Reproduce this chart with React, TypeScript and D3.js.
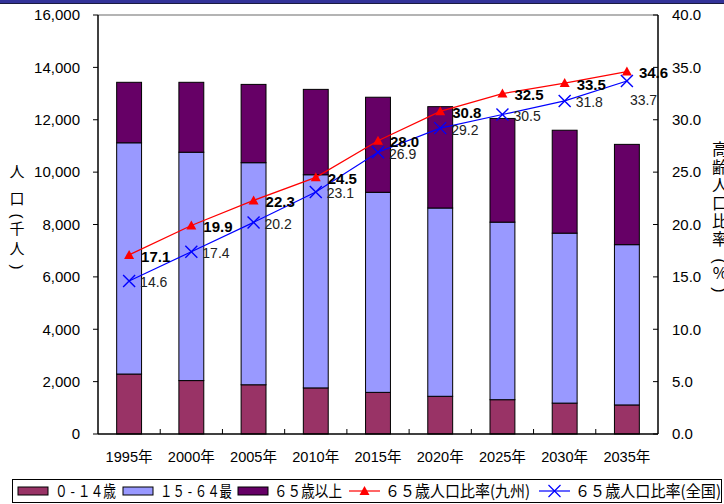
import React from 'react';
import * as d3 from 'd3';

const years = ['1995年', '2000年', '2005年', '2010年', '2015年', '2020年', '2025年', '2030年', '2035年'];
const age0to14 = [2290, 2040, 1880, 1760, 1590, 1440, 1310, 1180, 1110];
const age15to64 = [8830, 8720, 8480, 8140, 7640, 7190, 6780, 6490, 6120];
const age65plus = [2310, 2670, 2990, 3260, 3630, 3870, 3960, 3930, 3830];
const ratioKyushu = [17.1, 19.9, 22.3, 24.5, 28.0, 30.8, 32.5, 33.5, 34.6];
const ratioNational = [14.6, 17.4, 20.2, 23.1, 26.9, 29.2, 30.5, 31.8, 33.7];
const leftTicks = [0, 2000, 4000, 6000, 8000, 10000, 12000, 14000, 16000];
const rightTicks = [0, 5, 10, 15, 20, 25, 30, 35, 40];

const colors = {
  young: '#993366',
  working: '#9999ff',
  old: '#660066',
  kyushu: '#ff0000',
  national: '#0000ff'
};

const numFont = '"Liberation Sans", Arial, "Noto Sans CJK JP", sans-serif';
const jpFont = '"Noto Sans CJK JP", "Liberation Sans", sans-serif';

const margin = { top: 15, right: 66, bottom: 70, left: 98 };
const W = 724;
const H = 504;

const App: React.FC = () => {
  const x = d3.scaleBand().domain(years).range([margin.left, W - margin.right]).paddingInner(0.6).paddingOuter(0.3);
  const y = d3.scaleLinear().domain([0, 16000]).range([H - margin.bottom, margin.top]);
  const yr = d3.scaleLinear().domain([0, 40]).range([H - margin.bottom, margin.top]);
  const cx = (d: string) => x(d)! + x.bandwidth() / 2;
  const step = x.step();
  const x0 = margin.left, x1 = W - margin.right, yb = H - margin.bottom, yt = margin.top;

  const stacks = years.map((_, i) => {
    const a = age0to14[i], b = a + age15to64[i], c = b + age65plus[i];
    return [
      { y0: 0, y1: a, fill: colors.young },
      { y0: a, y1: b, fill: colors.working },
      { y0: b, y1: c, fill: colors.old }
    ];
  });

  const line = d3.line<number>().x((_, i) => cx(years[i])).y(d => yr(d));

  const triangle = (px: number, py: number, s = 5) =>
    `M${px},${py - s} L${px + s},${py + s * 0.8} L${px - s},${py + s * 0.8} Z`;
  const cross = (px: number, py: number, s = 6) =>
    `M${px - s},${py - s} L${px + s},${py + s} M${px - s},${py + s} L${px + s},${py - s}`;

  // vertical titles, one glyph per row; parens are rotated
  const leftTitle = [
    { ch: '人', y: 172 }, { ch: '口', y: 199 }, { ch: '(', y: 216, rot: true },
    { ch: '千', y: 229 }, { ch: '人', y: 249 }, { ch: ')', y: 267, rot: true }
  ];
  const rightTitle = [
    { ch: '高', y: 149 }, { ch: '齢', y: 167 }, { ch: '人', y: 185 }, { ch: '口', y: 203 },
    { ch: '比', y: 221 }, { ch: '率', y: 239 }, { ch: '(', y: 261, rot: true }, { ch: '%', y: 273 },
    { ch: ')', y: 290, rot: true }
  ];

  const legendY = 491;
  const legendItems = [
    { type: 'rect', fill: colors.young, sx: 18, tx: 55, label: '０ - １４歳', len: 61 },
    { type: 'rect', fill: colors.working, sx: 123, tx: 160, label: '１５ - ６４最', len: 72 },
    { type: 'rect', fill: colors.old, sx: 238, tx: 274, label: '６５歳以上', len: 68 },
    { type: 'tri', fill: colors.kyushu, sx: 349, tx: 385, label: '６５歳人口比率(九州)', len: 145 },
    { type: 'x', fill: colors.national, sx: 539, tx: 575, label: '６５歳人口比率(全国)', len: 146 }
  ];

  const titleChar = (c: { ch: string; y: number; rot?: boolean }, px: number, size: number, key: string) =>
    c.rot ? (
      <text key={key} transform={`translate(${px},${c.y}) rotate(90)`} dy="0.35em" textAnchor="middle"
        fontFamily={numFont} fontSize={size} fill="#000">{c.ch}</text>
    ) : (
      <text key={key} x={px} y={c.y} dy="0.35em" textAnchor="middle" fontFamily={jpFont} fontSize={size} fill="#000">{c.ch}</text>
    );

  return (
    <svg width={W} height={H} style={{ position: 'absolute', left: 0, top: 0, background: '#fff' }}>
      <rect x={0} y={0} width={W} height={3} fill="#333399" />
      <line x1={0} x2={W} y1={3.5} y2={3.5} stroke="#1a1a40" strokeWidth={1} />

      {/* bars */}
      {stacks.map((segs, i) =>
        segs.map((s, j) => (
          <rect key={`${i}-${j}`} x={x(years[i])} y={y(s.y1)} width={x.bandwidth()} height={y(s.y0) - y(s.y1)}
            fill={s.fill} stroke="#000" strokeWidth={1} />
        ))
      )}

      {/* frame and axes */}
      <line x1={x0} x2={x1} y1={yt} y2={yt} stroke="#b4b4b4" strokeWidth={2} />
      <line x1={x0} x2={x0} y1={yt} y2={yb} stroke="#000" strokeWidth={1.5} />
      <line x1={x1} x2={x1} y1={yt} y2={yb} stroke="#000" strokeWidth={1.5} />
      <line x1={x0} x2={x1} y1={yb} y2={yb} stroke="#000" strokeWidth={1.5} />

      {leftTicks.map(t => (
        <g key={`l${t}`}>
          <line x1={x0 - 5} x2={x0} y1={y(t)} y2={y(t)} stroke="#000" />
          <text x={80} y={y(t)} dy="0.35em" textAnchor="end" fontFamily={numFont} fontSize={15} fill="#000">
            {d3.format(',')(t)}
          </text>
        </g>
      ))}
      {rightTicks.map(t => (
        <g key={`r${t}`}>
          <line x1={x1 - 5} x2={x1} y1={yr(t)} y2={yr(t)} stroke="#000" />
          <text x={672} y={yr(t)} dy="0.35em" fontFamily={numFont} fontSize={15} fill="#000">
            {d3.format('.1f')(t)}
          </text>
        </g>
      ))}
      {years.slice(1).map(d => (
        <line key={`t${d}`} x1={cx(d) - step / 2} x2={cx(d) - step / 2} y1={yb - 5} y2={yb} stroke="#000" />
      ))}
      {years.map(d => (
        <text key={`c${d}`} x={cx(d)} y={457} dy="0.35em" textAnchor="middle" fontFamily={numFont}
          fontSize={15} textLength={47} lengthAdjust="spacingAndGlyphs" fill="#000">{d}</text>
      ))}

      {/* axis titles */}
      {leftTitle.map((c, i) => titleChar(c, 17, 15, `lt${i}`))}
      {rightTitle.map((c, i) => titleChar(c, 720, 16, `rt${i}`))}

      {/* lines */}
      <path d={line(ratioKyushu)!} fill="none" stroke={colors.kyushu} strokeWidth={1.2} />
      <path d={line(ratioNational)!} fill="none" stroke={colors.national} strokeWidth={1.2} />
      {ratioKyushu.map((v, i) => (
        <path key={`k${i}`} d={triangle(cx(years[i]), yr(v))} fill={colors.kyushu} />
      ))}
      {ratioNational.map((v, i) => (
        <path key={`n${i}`} d={cross(cx(years[i]), yr(v))} fill="none" stroke={colors.national} strokeWidth={1.4} />
      ))}
      {ratioNational.map((v, i) => {
        const last = i === ratioNational.length - 1;
        return (
          <text key={`nl${i}`} x={cx(years[i]) + (last ? 3 : 11)} y={yr(v) + (last ? 19 : 1.5)} dy="0.35em"
            fontFamily={numFont} fontSize={14} fill="#222">{v.toFixed(1)}</text>
        );
      })}
      {ratioKyushu.map((v, i) => (
        <text key={`kl${i}`} x={cx(years[i]) + 12} y={yr(v) + 1.5} dy="0.35em"
          fontFamily={numFont} fontSize={15} fontWeight="bold" fill="#000">{v.toFixed(1)}</text>
      ))}

      {/* legend */}
      <rect x={12.5} y={479.5} width={709} height={23} fill="#fff" stroke="#000" strokeWidth={1} />
      {legendItems.map((it, i) => (
        <g key={`lg${i}`}>
          {it.type === 'rect' && (
            <rect x={it.sx} y={legendY - 4} width={30} height={8} fill={it.fill} stroke="#000" strokeWidth={1} />
          )}
          {it.type !== 'rect' && (
            <line x1={it.sx} x2={it.sx + 31} y1={legendY} y2={legendY} stroke={it.fill} strokeWidth={1.2} />
          )}
          {it.type === 'tri' && <path d={triangle(it.sx + 15.5, legendY)} fill={it.fill} />}
          {it.type === 'x' && (
            <path d={cross(it.sx + 15.5, legendY)} fill="none" stroke={it.fill} strokeWidth={1.2} />
          )}
          <text x={it.tx} y={legendY} dy="0.35em" fontFamily={jpFont} fontSize={16} textLength={it.len}
            lengthAdjust="spacingAndGlyphs" fill="#000">{it.label}</text>
        </g>
      ))}
    </svg>
  );
};

export default App;
